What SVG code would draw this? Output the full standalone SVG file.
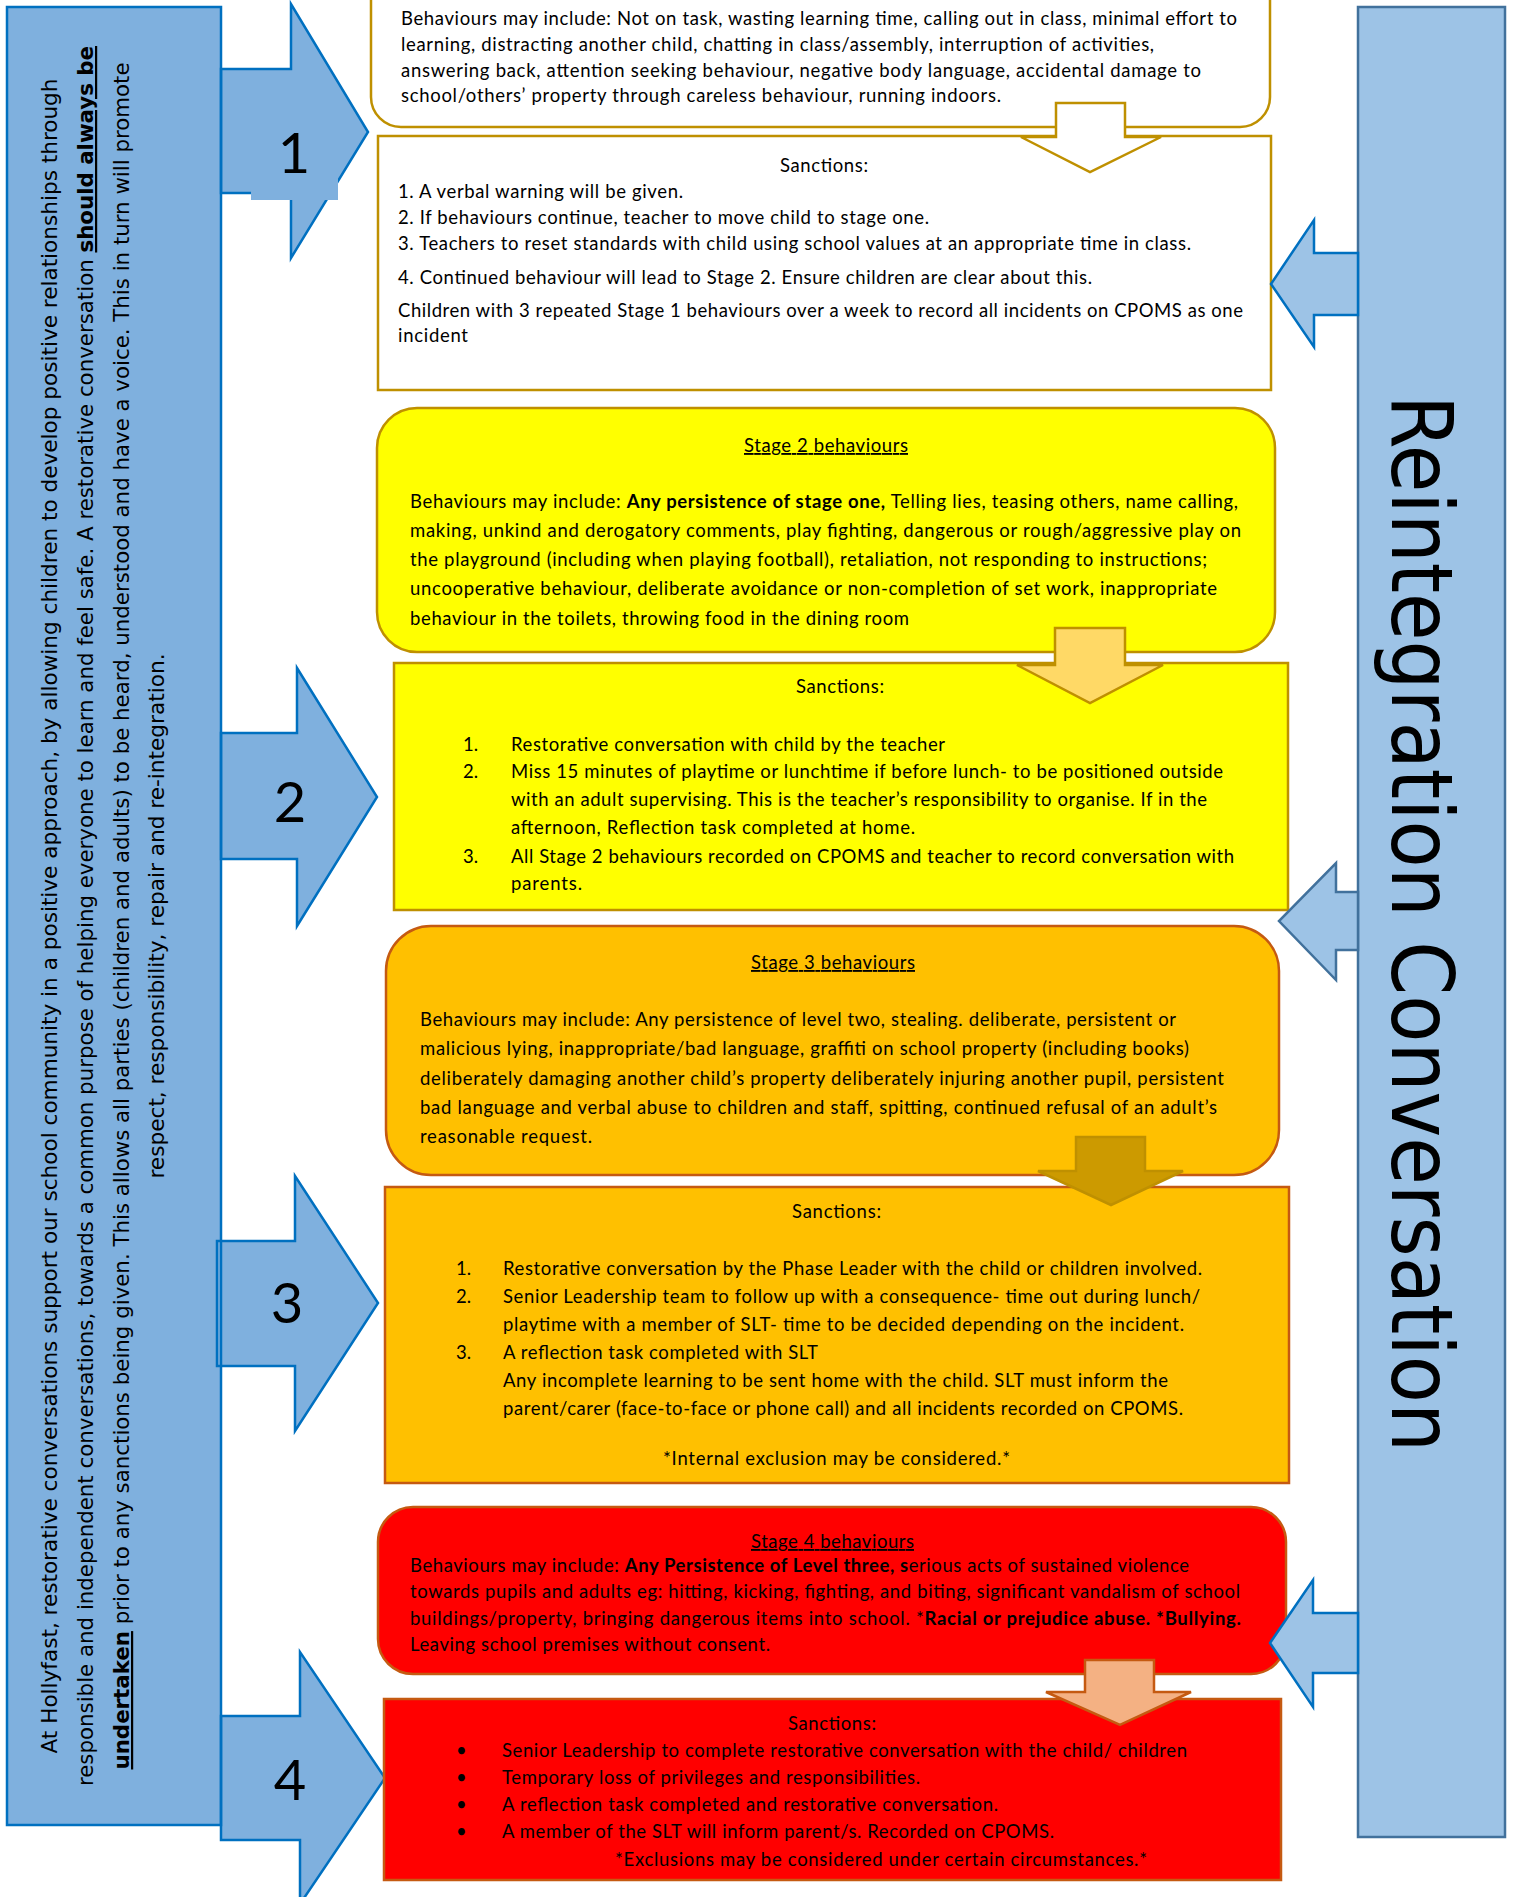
<svg xmlns="http://www.w3.org/2000/svg" width="1515" height="1897" viewBox="0 0 1515 1897">
<style>
  .t { font-family: Lato, "Liberation Sans", sans-serif; font-size: 18.5px; fill: #000; }
  .b { font-weight: bold; }
  .u { text-decoration: underline; }
  .side { font-family: "DejaVu Sans", "Liberation Sans", sans-serif; font-size: 22px; font-stretch: condensed; fill: #000; }
  .num { font-family: Lato, "Liberation Sans", sans-serif; font-size: 56px; fill: #000; text-anchor: middle; }
  .big { font-family: "DejaVu Sans", "Liberation Sans", sans-serif; font-size: 85px; font-stretch: condensed; fill: #000; }
  .larrow { fill: #7FB0DE; stroke: #0070C0; stroke-width: 2.5; stroke-linejoin: miter; }
  .rarrow { fill: #9DC3E6; stroke: #0070C0; stroke-width: 2.5; }
  .gold { stroke: #BF9000; stroke-width: 2.5; }
  .brown { stroke: #C55A11; stroke-width: 2.5; }
</style>
<rect width="1515" height="1897" fill="#fff"/>

<!-- Left explanatory panel with numbered stage arrows -->
<g id="left-panel">
  <rect x="7" y="7" width="214" height="1818" fill="#7FB0DE"/>
  <g id="stage-arrows-left">
    <path class="larrow" d="M221,69 H291 V4 L368,132 L291,258 V193 H221 Z"/>
    <path class="larrow" d="M221,733 H297 V668 L377,797 L297,926 V859 H221 Z"/>
    <path class="larrow" d="M217,1241 H295 V1176 L378,1303 L295,1431 V1366 H217 Z"/>
    <path class="larrow" d="M221,1716 H300 V1652 L385,1778 L300,1904 V1840 H221 Z"/>
  </g>
  <rect x="7" y="7" width="214" height="1818" fill="none" stroke="#0070C0" stroke-width="2.5"/>
  <rect x="251" y="120" width="87" height="80" fill="#7FB0DE"/>
  <text class="num" x="294" y="173">1</text>
  <text class="num" x="290" y="822">2</text>
  <text class="num" x="287" y="1323">3</text>
  <text class="num" x="290" y="1800">4</text>
  <g class="side" text-anchor="middle">
    <text transform="translate(57,916) rotate(-90)" textLength="1675" lengthAdjust="spacingAndGlyphs">At Hollyfast, restorative conversations support our school community in a positive approach, by allowing children to develop positive relationships through</text>
    <text transform="translate(93,916) rotate(-90)" textLength="1740" lengthAdjust="spacingAndGlyphs">responsible and independent conversations, towards a common purpose of helping everyone to learn and feel safe. A restorative conversation <tspan class="b u">should always be</tspan></text>
    <text transform="translate(129,916) rotate(-90)" textLength="1707" lengthAdjust="spacingAndGlyphs"><tspan class="b u">undertaken</tspan> prior to any sanctions being given. This allows all parties (children and adults) to be heard, understood and have a voice. This in turn will promote</text>
    <text transform="translate(164,916) rotate(-90)" textLength="525" lengthAdjust="spacingAndGlyphs">respect, responsibility, repair and re-integration.</text>
  </g>
</g>

<!-- Stage 1 -->
<g id="stage1-behaviours">
  <rect class="gold" x="371" y="-40" width="899" height="167" rx="30" fill="#fff"/>
  <g class="t">
    <text x="401" y="25" textLength="836" lengthAdjust="spacing">Behaviours may include: Not on task, wasting learning time, calling out in class, minimal effort to</text>
    <text x="401" y="51" textLength="753" lengthAdjust="spacing">learning, distracting another child, chatting in class/assembly, interruption of activities,</text>
    <text x="401" y="77" textLength="800" lengthAdjust="spacing">answering back, attention seeking behaviour, negative body language, accidental damage to</text>
    <text x="401" y="102" textLength="600" lengthAdjust="spacing">school/others’ property through careless behaviour, running indoors.</text>
  </g>
</g>
<g id="stage1-sanctions">
  <rect class="gold" x="378" y="136" width="893" height="254" fill="#fff"/>
  <g class="t">
    <text x="780" y="172" textLength="88" lengthAdjust="spacing">Sanctions:</text>
    <text x="398" y="198" textLength="285" lengthAdjust="spacing">1. A verbal warning will be given.</text>
    <text x="398" y="224" textLength="531" lengthAdjust="spacing">2. If behaviours continue, teacher to move child to stage one.</text>
    <text x="398" y="250" textLength="793" lengthAdjust="spacing">3. Teachers to reset standards with child using school values at an appropriate time in class.</text>
    <text x="398" y="284" textLength="694" lengthAdjust="spacing">4. Continued behaviour will lead to Stage 2. Ensure children are clear about this.</text>
    <text x="398" y="317" textLength="845" lengthAdjust="spacing">Children with 3 repeated Stage 1 behaviours over a week to record all incidents on CPOMS as one</text>
    <text x="398" y="342" textLength="70" lengthAdjust="spacing">incident</text>
  </g>
</g>

<!-- Stage 2 -->
<g id="stage2-behaviours">
  <rect class="gold" x="377" y="408" width="898" height="244" rx="40" fill="#FFFF00"/>
  <g class="t">
    <text class="u" x="744" y="452" textLength="164" lengthAdjust="spacing">Stage 2 behaviours</text>
    <text x="410" y="508" textLength="828" lengthAdjust="spacing">Behaviours may include: <tspan class="b">Any persistence of stage one,</tspan> Telling lies, teasing others, name calling,</text>
    <text x="410" y="537" textLength="831" lengthAdjust="spacing">making, unkind and derogatory comments, play fighting, dangerous or rough/aggressive play on</text>
    <text x="410" y="566" textLength="797" lengthAdjust="spacing">the playground (including when playing football), retaliation, not responding to instructions;</text>
    <text x="410" y="595" textLength="807" lengthAdjust="spacing">uncooperative behaviour, deliberate avoidance or non-completion of set work, inappropriate</text>
    <text x="410" y="625" textLength="499" lengthAdjust="spacing">behaviour in the toilets, throwing food in the dining room</text>
  </g>
</g>
<g id="stage2-sanctions">
  <rect class="gold" x="394" y="663" width="894" height="247" fill="#FFFF00"/>
  <g class="t">
    <text x="796" y="693" textLength="88" lengthAdjust="spacing">Sanctions:</text>
    <text x="463" y="751">1.</text>
    <text x="511" y="751" textLength="434" lengthAdjust="spacing">Restorative conversation with child by the teacher</text>
    <text x="463" y="778">2.</text>
    <text x="511" y="778" textLength="712" lengthAdjust="spacing">Miss 15 minutes of playtime or lunchtime if before lunch- to be positioned outside</text>
    <text x="511" y="806" textLength="696" lengthAdjust="spacing">with an adult supervising. This is the teacher’s responsibility to organise. If in the</text>
    <text x="511" y="834" textLength="404" lengthAdjust="spacing">afternoon, Reflection task completed at home.</text>
    <text x="463" y="863">3.</text>
    <text x="511" y="863" textLength="723" lengthAdjust="spacing">All Stage 2 behaviours recorded on CPOMS and teacher to record conversation with</text>
    <text x="511" y="890" textLength="71" lengthAdjust="spacing">parents.</text>
  </g>
</g>

<!-- Stage 3 -->
<g id="stage3-behaviours">
  <rect class="brown" x="386" y="926" width="893" height="249" rx="45" fill="#FFC000"/>
  <g class="t">
    <text class="u" x="751" y="969" textLength="164" lengthAdjust="spacing">Stage 3 behaviours</text>
    <text x="420" y="1026" textLength="756" lengthAdjust="spacing">Behaviours may include: Any persistence of level two, stealing. deliberate, persistent or</text>
    <text x="420" y="1055" textLength="769" lengthAdjust="spacing">malicious lying, inappropriate/bad language, graffiti on school property (including books)</text>
    <text x="420" y="1085" textLength="804" lengthAdjust="spacing">deliberately damaging another child’s property deliberately injuring another pupil, persistent</text>
    <text x="420" y="1114" textLength="797" lengthAdjust="spacing">bad language and verbal abuse to children and staff, spitting, continued refusal of an adult’s</text>
    <text x="420" y="1143" textLength="172" lengthAdjust="spacing">reasonable request.</text>
  </g>
</g>
<g id="stage3-sanctions">
  <rect class="brown" x="385" y="1187" width="904" height="296" fill="#FFC000"/>
  <g class="t">
    <text x="792" y="1218" textLength="89" lengthAdjust="spacing">Sanctions:</text>
    <text x="456" y="1275">1.</text>
    <text x="503" y="1275" textLength="699" lengthAdjust="spacing">Restorative conversation by the Phase Leader with the child or children involved.</text>
    <text x="456" y="1303">2.</text>
    <text x="503" y="1303" textLength="697" lengthAdjust="spacing">Senior Leadership team to follow up with a consequence- time out during lunch/</text>
    <text x="503" y="1331" textLength="681" lengthAdjust="spacing">playtime with a member of SLT- time to be decided depending on the incident.</text>
    <text x="456" y="1359">3.</text>
    <text x="503" y="1359" textLength="315" lengthAdjust="spacing">A reflection task completed with SLT</text>
    <text x="503" y="1387" textLength="665" lengthAdjust="spacing">Any incomplete learning to be sent home with the child. SLT must inform the</text>
    <text x="503" y="1415" textLength="680" lengthAdjust="spacing">parent/carer (face-to-face or phone call) and all incidents recorded on CPOMS.</text>
    <text x="663" y="1465" textLength="347" lengthAdjust="spacing">*Internal exclusion may be considered.*</text>
  </g>
</g>

<!-- Stage 4 -->
<g id="stage4-behaviours">
  <rect class="brown" x="378" y="1507" width="908" height="167" rx="35" fill="#FF0000"/>
  <g class="t">
    <text class="u" x="751" y="1548" textLength="163" lengthAdjust="spacing">Stage 4 behaviours</text>
    <text x="410" y="1572" textLength="779" lengthAdjust="spacing">Behaviours may include: <tspan class="b">Any Persistence of Level three, s</tspan>erious acts of sustained violence</text>
    <text x="410" y="1598" textLength="830" lengthAdjust="spacing">towards pupils and adults eg: hitting, kicking, fighting, and biting, significant vandalism of school</text>
    <text x="410" y="1625" textLength="831" lengthAdjust="spacing">buildings/property, bringing dangerous items into school. *<tspan class="b">Racial or prejudice abuse. *Bullying.</tspan></text>
    <text x="410" y="1651" textLength="360" lengthAdjust="spacing">Leaving school premises without consent.</text>
  </g>
</g>
<g id="stage4-sanctions">
  <rect class="brown" x="384" y="1699" width="897" height="181" fill="#FF0000"/>
  <g class="t">
    <text x="788" y="1730" textLength="88" lengthAdjust="spacing">Sanctions:</text>
    <text x="456" y="1757">•</text>
    <text x="502" y="1757" textLength="685" lengthAdjust="spacing">Senior Leadership to complete restorative conversation with the child/ children</text>
    <text x="456" y="1784">•</text>
    <text x="502" y="1784" textLength="418" lengthAdjust="spacing">Temporary loss of privileges and responsibilities.</text>
    <text x="456" y="1811">•</text>
    <text x="502" y="1811" textLength="496" lengthAdjust="spacing">A reflection task completed and restorative conversation.</text>
    <text x="456" y="1838">•</text>
    <text x="502" y="1838" textLength="552" lengthAdjust="spacing">A member of the SLT will inform parent/s. Recorded on CPOMS.</text>
    <text x="615" y="1866" textLength="532" lengthAdjust="spacing">*Exclusions may be considered under certain circumstances.*</text>
  </g>
</g>

<!-- Right reintegration panel, its arrows overlap the stage boxes -->
<g id="right-panel">
  <rect x="1358" y="7" width="147" height="1830" fill="#9DC3E6" stroke="#41719C" stroke-width="2.5"/>
  <path class="rarrow" d="M1358,253 H1314 V220 L1271,284 L1314,347 V315 H1358 Z"/>
  <path class="rarrow" style="stroke:#41719C" d="M1358,892 H1336 V863 L1279,921 L1336,980 V950 H1358 Z"/>
  <path class="rarrow" d="M1358,1613 H1313 V1580 L1270,1643 L1313,1707 V1673 H1358 Z"/>
  <text class="big" transform="translate(1392,395) rotate(90)" textLength="1057" lengthAdjust="spacingAndGlyphs">Reintegration Conversation</text>
</g>

<!-- Downward arrows linking behaviours to sanctions -->
<g id="connectors">
  <path class="gold" fill="#fff" d="M1056,103 H1125 V137 H1161 L1090,172 L1021,137 H1056 Z"/>
  <path class="gold" fill="#FFD966" d="M1055,628 H1125 V665 H1163 L1090,703 L1017,665 H1055 Z"/>
  <path class="gold" fill="#CC9A00" d="M1076,1137 H1145 V1171 H1183 L1111,1205 L1038,1171 H1076 Z"/>
  <path class="brown" fill="#F4B183" d="M1085,1660 H1154 V1692 H1191 L1120,1725 L1046,1692 H1085 Z"/>
</g>
</svg>
